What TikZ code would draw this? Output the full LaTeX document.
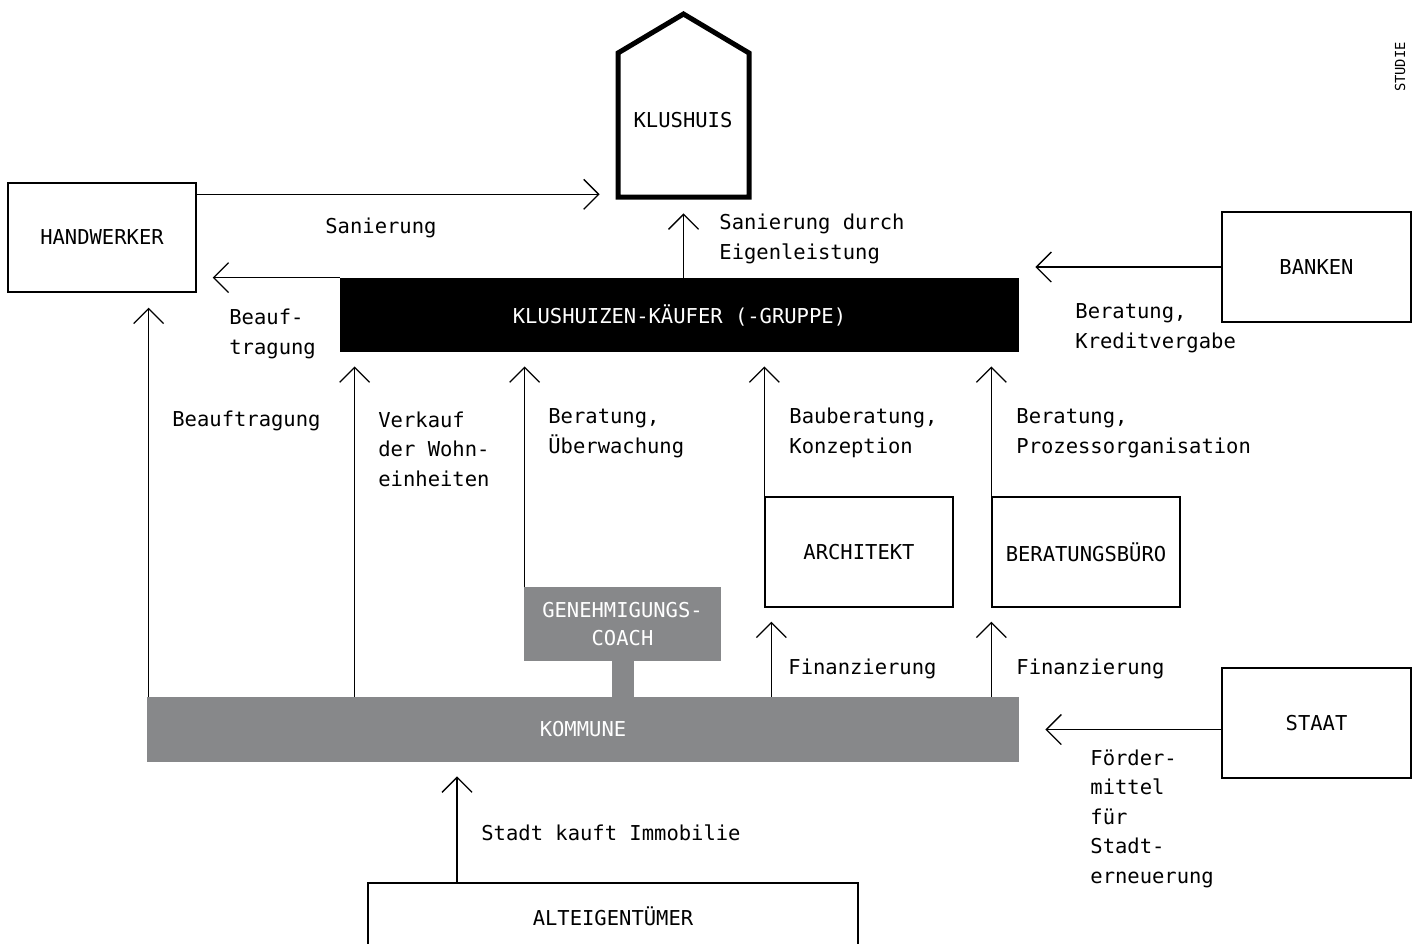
\documentclass[tikz,border=0pt]{standalone}
\usepackage{fontspec}
\newfontfamily\monofam{DejaVu Sans Mono}
\usetikzlibrary{arrows.meta}
\definecolor{boxgray}{RGB}{135,136,138}
\tikzset{
  every node/.style={font=\monofam\fontsize{10.25}{14.75}\selectfont},
  wbox/.style={draw=black, line width=0.65pt, fill=white, inner sep=0pt, minimum width=94pt, minimum height=55pt},
  gbox/.style={fill=boxgray, text=white, inner sep=0pt},
  arr/.style={line width=0.65pt, -{Straight Barb[length=7.5pt,width=15pt,line width=0.65pt]}},
  lbl/.style={anchor=base west, align=left, inner sep=0pt},
}
\begin{document}
\begin{tikzpicture}[x=0.5pt,y=-0.5pt]
\useasboundingbox (0,0) rectangle (1418,943);
% house
\draw[line width=2.5pt, line join=miter] (618,197) -- (618,53) -- (683.5,14) -- (749,53) -- (749,197) -- cycle;
\node[inner sep=0pt, minimum width=65.5pt, minimum height=72pt] (house) at (683.5,125) {};
\node at (683,120) {KLUSHUIS};
% boxes
\node[wbox, minimum height=54.5pt] (hw) at (102,237.5) {HANDWERKER};
\node[fill=black, text=white, inner sep=0pt, minimum width=339.5pt, minimum height=37pt] (kf) at (679.5,315) {KLUSHUIZEN-KÄUFER (-GRUPPE)};
\node[wbox, minimum width=94.5pt] (banken) at (1316.5,267) {BANKEN};
\node[wbox] (arch) at (859,552) {ARCHITEKT};
\node[wbox] (bb) at (1086,552) {BERATUNGSBÜRO};
\node[gbox, minimum width=98.5pt, minimum height=37pt, align=center] (gc) at (622.5,624) {GENEHMIGUNGS-\\[-1pt]COACH};
\node[gbox, minimum width=436pt, minimum height=32.5pt] (kom) at (583,729.5) {KOMMUNE};
\fill[boxgray] (gc.south -| 612,0) rectangle (kom.north -| 634,0);
\node[wbox, minimum width=94.5pt] (staat) at (1316.5,723) {STAAT};
\node[wbox, minimum width=245pt, minimum height=33pt] (alt) at (613,916) {ALTEIGENTÜMER};
\node[font=\monofam\fontsize{6.9}{8}\selectfont, rotate=90] (studie) at (1400,67) {STUDIE};
% arrows
\coordinate (s1) at ([yshift=-6pt]hw.north east);
\draw[arr, shorten >=9pt] (s1) -- (s1 -| house.west);
\draw[arr, shorten >=8pt] (house.south |- kf.north) -- (house.south);
\draw[arr, shorten >=8pt] (kf.north west) -- (hw.east |- kf.north west);
\draw[arr, shorten >=8pt] (banken.west) -- (kf.east |- banken.west);
\draw[arr, shorten >=7.5pt] ([xshift=1pt]kom.north west) -- ([xshift=1pt]kom.north west |- hw.south);
\draw[arr, shorten >=7pt] ([xshift=7.5pt]kf.south west |- kom.north) -- ([xshift=7.5pt]kf.south west);
\draw[arr, shorten >=7pt] ([xshift=0.5pt]gc.north west) -- ([xshift=0.5pt]gc.north west |- kf.south);
\draw[arr, shorten >=7pt] (arch.north west) -- (arch.north west |- kf.south);
\draw[arr, shorten >=7pt] (bb.north west) -- (bb.north west |- kf.south);
\draw[arr, shorten >=7pt] ([xshift=3.5pt]arch.south west |- kom.north) -- ([xshift=3.5pt]arch.south west);
\draw[arr, shorten >=7pt] (bb.south west |- kom.north) -- (bb.south west);
\draw[arr, shorten >=13pt] (staat.west |- kom.east) -- (kom.east);
\draw[arr, shorten >=7pt] (alt.north -| 457,0) -- (kom.south -| 457,0);
% labels (anchor = baseline of last line)
\node[lbl] (l1) at (325,233) {Sanierung};
\node[lbl] (l2) at (719,259) {Sanierung durch\\Eigenleistung};
\node[lbl] (l3) at (229,354) {Beauf-\\tragung};
\node[lbl] (l4) at (1075,348) {Beratung,\\Kreditvergabe};
\node[lbl] (l5) at (172,426) {Beauftragung};
\node[lbl] (l6) at (378,486) {Verkauf\\der Wohn-\\einheiten};
\node[lbl] (l7) at (548,453) {Beratung,\\Überwachung};
\node[lbl] (l8) at (789,453) {Bauberatung,\\Konzeption};
\node[lbl] (l9) at (1016,453) {Beratung,\\Prozessorganisation};
\node[lbl] (l10) at (788,674) {Finanzierung};
\node[lbl] (l11) at (1016,674) {Finanzierung};
\node[lbl] (l12) at (1090,883) {Förder-\\mittel\\für\\Stadt-\\erneuerung};
\node[lbl] (l13) at (481,840) {Stadt kauft Immobilie};
\end{tikzpicture}
\end{document}
